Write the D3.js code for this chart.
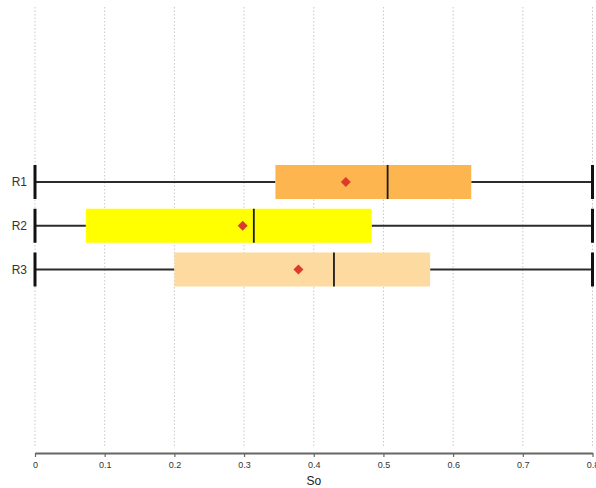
<!DOCTYPE html>
<html>
<head>
<meta charset="utf-8">
<script src="https://cdn.jsdelivr.net/npm/d3@7"></script>
<style>
  html, body { margin: 0; padding: 0; background: #fff; }
  svg { display: block; font-family: "Liberation Sans", Arial, sans-serif; }
</style>
</head>
<body>
<svg id="chart" width="596" height="488"></svg>
<script>
// Groups and their five-number summaries plus mean
const groups   = ["R1", "R2", "R3"];
const lowWhisk = [0, 0, 0];
const q1       = [0.345, 0.073, 0.200];
const medians  = [0.506, 0.314, 0.429];
const q3       = [0.626, 0.483, 0.567];
const highWhisk= [0.8, 0.8, 0.8];
const means    = [0.446, 0.298, 0.378];
const fills    = ["#fdb54f", "#ffff00", "#fddba0"];
const xTicks   = [0, 0.1, 0.2, 0.3, 0.4, 0.5, 0.6, 0.7, 0.8];
const xTitle   = "So";

const svg = d3.select("#chart");

const x = d3.scaleLinear().domain([0, 0.8]).range([35, 592.5]);
const y = d3.scalePoint().domain(groups).range([182, 269.5]);
const boxH = 34;

// vertical dotted grid
svg.append("g").selectAll("line").data(xTicks).join("line")
  .attr("x1", d => x(d)).attr("x2", d => x(d))
  .attr("y1", 7).attr("y2", 448)
  .attr("stroke", "#c8c8c8").attr("stroke-width", 1)
  .attr("stroke-dasharray", "1.5,2");

const rows = groups.map((g, i) => ({
  g, lo: lowWhisk[i], q1: q1[i], med: medians[i], q3: q3[i], hi: highWhisk[i],
  mean: means[i], fill: fills[i]
}));

const row = svg.append("g").selectAll("g").data(rows).join("g");

// whiskers
row.append("line")
  .attr("x1", d => x(d.lo)).attr("x2", d => x(d.q1))
  .attr("y1", d => y(d.g)).attr("y2", d => y(d.g))
  .attr("stroke", "#2b2b2b").attr("stroke-width", 1.8);
row.append("line")
  .attr("x1", d => x(d.q3)).attr("x2", d => x(d.hi))
  .attr("y1", d => y(d.g)).attr("y2", d => y(d.g))
  .attr("stroke", "#2b2b2b").attr("stroke-width", 1.8);

// whisker caps
row.append("line")
  .attr("x1", d => x(d.lo)).attr("x2", d => x(d.lo))
  .attr("y1", d => y(d.g) - boxH / 2).attr("y2", d => y(d.g) + boxH / 2)
  .attr("stroke", "#111").attr("stroke-width", 3);
row.append("line")
  .attr("x1", d => x(d.hi)).attr("x2", d => x(d.hi))
  .attr("y1", d => y(d.g) - boxH / 2).attr("y2", d => y(d.g) + boxH / 2)
  .attr("stroke", "#111").attr("stroke-width", 3);

// boxes
row.append("rect")
  .attr("x", d => x(d.q1)).attr("width", d => x(d.q3) - x(d.q1))
  .attr("y", d => y(d.g) - boxH / 2).attr("height", boxH)
  .attr("fill", d => d.fill);

// medians
row.append("line")
  .attr("x1", d => x(d.med)).attr("x2", d => x(d.med))
  .attr("y1", d => y(d.g) - boxH / 2).attr("y2", d => y(d.g) + boxH / 2)
  .attr("stroke", "#1a1a1a").attr("stroke-width", 1.8);

// means as diamonds
row.append("path")
  .attr("d", d3.symbol(d3.symbolSquare, 50)())
  .attr("transform", d => `translate(${x(d.mean)},${y(d.g)}) rotate(45)`)
  .attr("fill", "#dc3a2c");

// group labels
svg.append("g").selectAll("text").data(groups).join("text")
  .attr("x", 27).attr("y", d => y(d))
  .attr("dy", "0.35em").attr("text-anchor", "end")
  .attr("font-size", 12).attr("fill", "#333")
  .text(d => d);

// x axis
const axis = svg.append("g").attr("transform", "translate(0,453)")
  .call(d3.axisBottom(x).tickValues(xTicks).tickSize(4).tickSizeOuter(0)
    .tickFormat(d3.format("")));
axis.select(".domain").attr("stroke", "#666").attr("stroke-width", 1.8);
axis.selectAll(".tick line").attr("stroke", "#666").attr("stroke-width", 1.2);
axis.selectAll(".tick text").attr("fill", "#333").attr("font-size", 9)
  .attr("font-family", "Liberation Sans, Arial, sans-serif").attr("dy", "0.9em");

svg.append("text")
  .attr("x", x(0.4)).attr("y", 485)
  .attr("text-anchor", "middle").attr("font-size", 12).attr("fill", "#222")
  .text(xTitle);
</script>
</body>
</html>
